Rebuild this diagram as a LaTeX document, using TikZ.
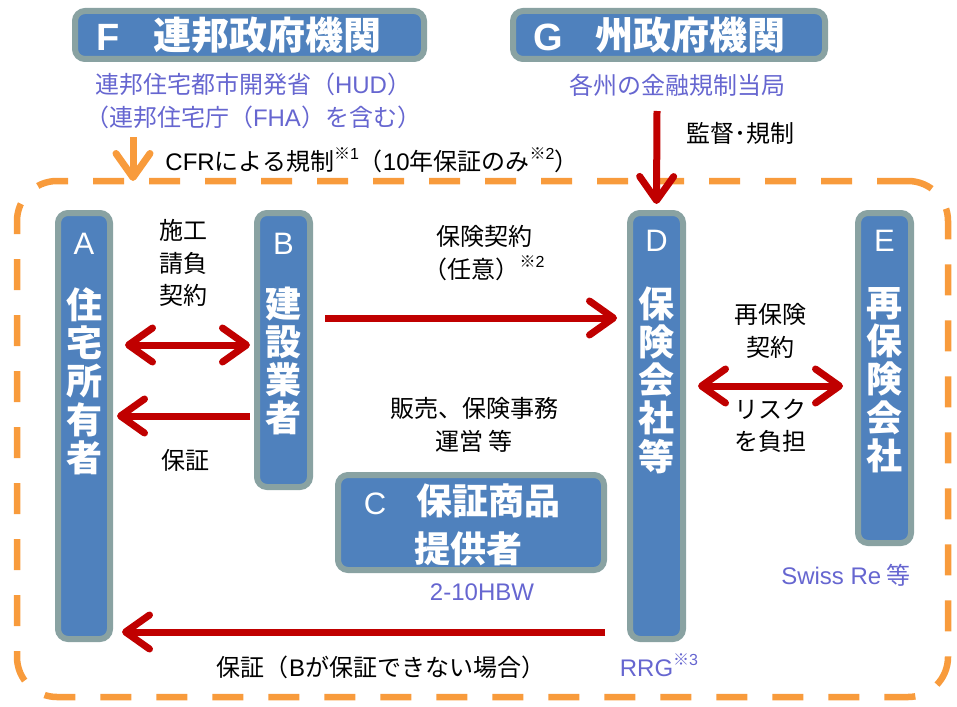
\documentclass[tikz,border=0pt]{standalone}
\usepackage{fontspec}
\setmainfont{Noto Sans CJK JP}
\newfontfamily\lat{Liberation Sans}
\usetikzlibrary{arrows.meta,calc}
\definecolor{boxblue}{RGB}{79,129,189}
\definecolor{boxgray}{RGB}{137,162,162}
\definecolor{arrowred}{RGB}{192,0,0}
\definecolor{dashorange}{RGB}{248,155,60}
\definecolor{ptext}{RGB}{102,102,208}
\newcommand\kome[1]{\raisebox{0.45em}{\fontsize{16}{16}\selectfont ※{\lat #1}}}
\begin{document}
\begin{tikzpicture}[x=1pt,y=-1pt,
  box/.style={draw=boxgray, fill=boxblue, line width=6pt, rounded corners=10pt, inner sep=0pt},
  vtxt/.style={text=white, font=\bfseries\fontsize{36}{38.3}\selectfont, align=center, inner sep=0pt},
  letter/.style={text=white, font=\lat\fontsize{31}{31}\selectfont, inner sep=0pt},
  htxt/.style={text=white, font=\bfseries\fontsize{38}{46}\selectfont, inner sep=0pt},
  hlet/.style={text=white, font=\lat\bfseries\fontsize{38}{46}\selectfont, inner sep=0pt},
  lbl/.style={font=\fontsize{24}{32.5}\selectfont, align=center, inner sep=0pt},
  plbl/.style={lbl, text=ptext},
  redarr/.style={draw=arrowred, line width=7pt},
  >={Straight Barb[length=24pt,width=34pt,round]}
]
\useasboundingbox (0,0) rectangle (957,706);

% dashed frame
\node[draw=dashorange, line width=6.5pt, dash pattern=on 31pt off 25pt, rounded corners=40pt,
      minimum width=931pt, minimum height=516pt, inner sep=0pt] (frame) at (482.5,439) {};

% boxes
\node[box, minimum width=349pt, minimum height=48pt] (F) at (249.5,35) {};
\node[box, minimum width=312pt, minimum height=48pt] (G) at (669,35) {};
\node[box, minimum width=52pt, minimum height=426pt] (A) at (84,426) {};
\node[box, minimum width=53pt, minimum height=274pt] (B) at (283.5,350) {};
\node[box, minimum width=266pt, minimum height=95pt] (C) at (471,522.5) {};
\node[box, minimum width=53pt, minimum height=426pt] (D) at (656.5,426) {};
\node[box, minimum width=53pt, minimum height=330pt] (E) at (884.5,378) {};

% box texts
\node[hlet] (Fl) at (108,37) {F};
\node[htxt] (Ft) at (267,35) {連邦政府機関};
\node[hlet] (Gl) at (548,37) {G};
\node[htxt] (Gt) at (690,35) {州政府機関};
\node[letter] (Al) at (84,244) {A};
\node[vtxt] (At) at (84,381) {住\\宅\\所\\有\\者};
\node[letter] (Bl) at (283.5,244) {B};
\node[vtxt] (Bt) at (283.5,361) {建\\設\\業\\者};
\node[letter] (Dl) at (656.5,241) {D};
\node[vtxt] (Dt) at (656.5,380) {保\\険\\会\\社\\等};
\node[letter] (El) at (884.5,241) {E};
\node[vtxt] (Et) at (884.5,380) {再\\保\\険\\会\\社};
\node[letter] (Cl) at (375,504) {C};
\node[vtxt, anchor=west] (Ct1) at (416,501) {保証商品};
\node[vtxt, anchor=west] (Ct2) at (414,549) {提供者};

% purple labels
\node[plbl] (hud) at (253,101) {連邦住宅都市開発省（{\lat HUD}）\\（連邦住宅庁（{\lat FHA}）を含む）};
\node[plbl] (fin) at (677,85) {各州の金融規制当局};
\node[plbl] (hbw) at (482,592) {\lat 2-10HBW};
\node[plbl] (swiss) at (846,575) {{\lat Swiss Re} 等};
\node[plbl] (rrg) at (659,665) {{\lat RRG}\kome{3}};

% black labels
\node[lbl] (cfr) at (372,160) {{\lat CFR}による規制\kome{1}（{\lat 10}年保証のみ\kome{2}）};
\node[lbl] (kan) at (740,133) {監督･規制};
\node[lbl] (seko) at (183,263) {施工\\請負\\契約};
\node[lbl] (hosho) at (185,460) {保証};
\node[lbl] (hoken) at (484,253) {保険契約\\（任意）\kome{2}};
\node[lbl] (hanbai) at (474,425) {販売、保険事務\\運営 等};
\node[lbl] (sai) at (770,331) {再保険\\契約};
\node[lbl] (risk) at (770,426) {リスク\\を負担};
\node[lbl] (bott) at (381,667) {保証（{\lat B}が保証できない場合）};

% connectors
\coordinate (Ftail) at (133,137);
\coordinate (Fhead) at (133,181);
\draw[draw=dashorange, line width=7pt, ->] (Ftail) -- (Fhead);
\coordinate (Gtail) at (657,111);
\draw[redarr, ->] (Gtail) -- ([yshift=6pt]D.north);
\draw[redarr, <->] ([xshift=12pt]A.east |- 0,345) -- ([xshift=-4pt]B.west |- 0,345);
\draw[redarr, ->] ([xshift=-4pt]B.west |- 0,416) -- ([xshift=4pt]A.east |- 0,416);
\draw[redarr, ->] ([xshift=12pt]B.east |- 0,318) -- ([xshift=-10pt]D.west |- 0,318);
\draw[redarr, <->] ([xshift=12pt]D.east |- 0,386) -- ([xshift=-12pt]E.west |- 0,386);
\draw[redarr, ->] ([xshift=-22pt]D.west |- 0,632) -- ([xshift=9pt]A.east |- 0,632);
\end{tikzpicture}
\end{document}
